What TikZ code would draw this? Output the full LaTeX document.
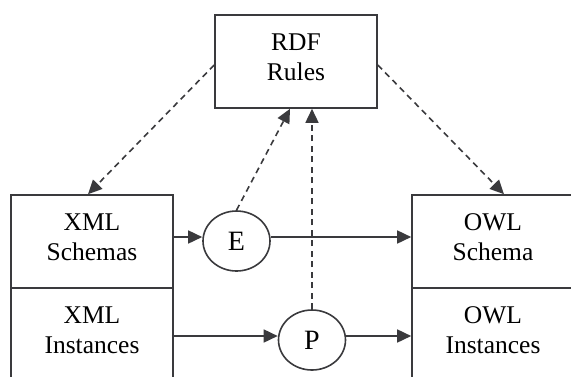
\documentclass[tikz,border=0pt]{standalone}
\usepackage{fontspec}
\setmainfont{Liberation Serif}
\usetikzlibrary{arrows.meta,shapes.geometric}
\definecolor{dark}{HTML}{3A3A3D}
\begin{document}
\begin{tikzpicture}[x=1pt,y=-1pt,
  line/.style={draw=dark, line width=1.6pt},
  box/.style={line, rectangle, minimum width=162pt, minimum height=93pt, inner sep=0pt},
  ell/.style={line, ellipse, minimum width=67pt, minimum height=60pt, inner sep=0pt},
  lbl/.style={align=center, font=\fontsize{25.5}{30}\selectfont, inner sep=0pt, text=black},
  sym/.style={font=\fontsize{28}{30}\selectfont, inner sep=0pt, text=black},
  arr/.style={line, -{Triangle[length=14pt,width=13pt]}},
  dsh/.style={arr, dash pattern=on 6pt off 4.5pt}]
\useasboundingbox (0,0) rectangle (571,376);
\clip (0,0) rectangle (571,376);
\fill[white] (0,0) rectangle (571,376);
% boxes
\node[box] (rdf) at (296,61.5) {};
\node[box] (xs) at (92,241.5) {};
\node[box] (xi) at (92,334.5) {};
\node[box] (os) at (493,241.5) {};
\node[box] (oi) at (493,334.5) {};
% labels
\node[lbl] (rdft) at ([yshift=4.5pt]rdf.center) {RDF\\Rules};
\node[lbl] (xst) at ([yshift=4.5pt]xs.center) {XML\\Schemas};
\node[lbl] (xit) at ([yshift=4.5pt]xi.center) {XML\\Instances};
\node[lbl] (ost) at ([yshift=4.5pt]os.center) {OWL\\Schema};
\node[lbl] (oit) at ([yshift=4.5pt]oi.center) {OWL\\Instances};
% ellipses
\node[ell] (E) at (236.5,241) {};
\node[sym] (Et) at (E.center) {E};
\node[ell] (P) at (312,340) {};
\node[sym] (Pt) at (P.center) {P};
% levels of the horizontal connectors
\coordinate (ya) at (0,237);
\coordinate (yb) at (0,336);
% solid connectors
\draw[arr] (xs.east |- ya) -- (E.west |- ya);
\draw[arr] (E.east |- ya) -- (os.west |- ya);
\draw[arr] ([xshift=-2pt]xi.east |- yb) -- (P.west |- yb);
\draw[arr] (P.east |- yb) -- (oi.west |- yb);
% dashed connectors
\draw[dsh] ([yshift=-3.5pt]rdf.west) -- ([xshift=-4pt]xs.north);
\draw[dsh] ([yshift=-3.5pt]rdf.east) -- ([xshift=11pt]os.north);
\draw[dsh] (E.north) -- ([xshift=-6pt]rdf.south);
\draw[dsh] (P.north) -- (rdf.south -| P.north);
\end{tikzpicture}
\end{document}
